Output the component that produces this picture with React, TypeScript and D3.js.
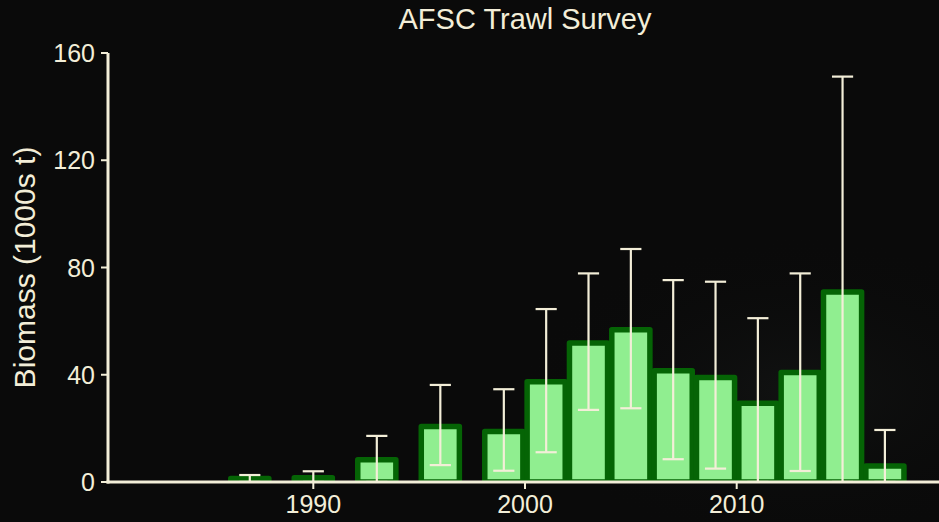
import React from "react";
import * as d3 from "d3";

// Survey years and biomass estimates (1000s t) with interval bounds
const years = [1987, 1990, 1993, 1996, 1999, 2001, 2003, 2005, 2007, 2009, 2011, 2013, 2015, 2017];
const biomass = [1.3, 1.6, 8.3, 20.7, 18.8, 37.4, 51.8, 56.8, 41.5, 39.0, 29.4, 40.8, 70.9, 6.0];
const upper = [2.6, 4.0, 17.2, 36.2, 34.6, 64.5, 77.8, 86.9, 75.3, 74.7, 61.1, 77.8, 151.2, 19.4];
const lower = [0, 0, 0, 6.3, 4.2, 11.1, 26.9, 27.5, 8.5, 5.0, 0, 4.1, 0, 0];

const yTicks = [0, 40, 80, 120, 160];
const xTicks = [1990, 2000, 2010];

const W = 939;
const H = 522;
const panel = { left: 108, right: 942, top: 53, bottom: 482 };

const TEXT = "#f3eed8";
const FILL = "#90ee90";
const EDGE = "#056405";

export default function App() {
  const x = d3.scaleLinear().domain([1990, 2010]).range([313.3, 736.7]);
  const y = d3.scaleLinear().domain([0, 160]).range([panel.bottom, panel.top]);
  const barW = x(1991.8) - x(1990);
  const capW = x(1991) - x(1990);
  const font = "'Liberation Sans', Arial, Helvetica, sans-serif";

  return (
    <svg
      width={W}
      height={H}
      style={{ position: "fixed", left: 0, top: 0, display: "block" }}
      fontFamily={font}
    >
      <defs>
        <clipPath id="panel-clip">
          <rect x={panel.left} y={0} width={panel.right - panel.left} height={panel.bottom} />
        </clipPath>
        <radialGradient id="haze" cx="0.85" cy="0.75" r="0.3">
          <stop offset="0" stopColor="#1a1d1c" stopOpacity={0.45} />
          <stop offset="1" stopColor="#0a0a0a" stopOpacity={0} />
        </radialGradient>
      </defs>
      <rect width={W} height={H} fill="#0a0a0a" />
      <rect width={W} height={H} fill="url(#haze)" />

      <text x={525} y={29} textAnchor="middle" fill={TEXT} fontSize={29}>
        AFSC Trawl Survey
      </text>

      <g clipPath="url(#panel-clip)">
        {years.map((yr, i) => (
          <rect
            key={"b" + yr}
            x={x(yr) - barW / 2}
            y={y(biomass[i])}
            width={barW}
            height={y(0) - y(biomass[i])}
            fill={FILL}
            stroke={EDGE}
            strokeWidth={5.5}
            strokeLinejoin="round"
          />
        ))}
        {years.map((yr, i) => {
          const cx = x(yr);
          return (
            <g key={"e" + yr} stroke={TEXT} strokeWidth={2.2}>
              <line x1={cx} x2={cx} y1={y(upper[i])} y2={y(lower[i])} />
              <line x1={cx - capW / 2} x2={cx + capW / 2} y1={y(upper[i])} y2={y(upper[i])} />
              <line x1={cx - capW / 2} x2={cx + capW / 2} y1={y(lower[i])} y2={y(lower[i])} />
            </g>
          );
        })}
      </g>

      {/* y axis */}
      <line x1={panel.left} x2={panel.left} y1={y(160)} y2={y(0) + 1.5} stroke={TEXT} strokeWidth={3} />
      {yTicks.map((t) => (
        <g key={"yt" + t}>
          <line x1={panel.left - 7} x2={panel.left} y1={y(t)} y2={y(t)} stroke={TEXT} strokeWidth={2} />
          <text x={panel.left - 13} y={y(t)} dy="0.36em" textAnchor="end" fill={TEXT} fontSize={25}>
            {t}
          </text>
        </g>
      ))}

      {/* x axis */}
      <line x1={panel.left - 1.5} x2={W} y1={y(0)} y2={y(0)} stroke={TEXT} strokeWidth={3} />
      {xTicks.map((t) => (
        <g key={"xt" + t}>
          <line x1={x(t)} x2={x(t)} y1={y(0)} y2={y(0) + 7} stroke={TEXT} strokeWidth={2} />
          <text x={x(t)} y={513} textAnchor="middle" fill={TEXT} fontSize={25}>
            {t}
          </text>
        </g>
      ))}

      <text
        transform={`translate(35, ${(panel.top + panel.bottom) / 2}) rotate(-90)`}
        textAnchor="middle"
        fill={TEXT}
        fontSize={30}
      >
        Biomass (1000s t)
      </text>
    </svg>
  );
}
